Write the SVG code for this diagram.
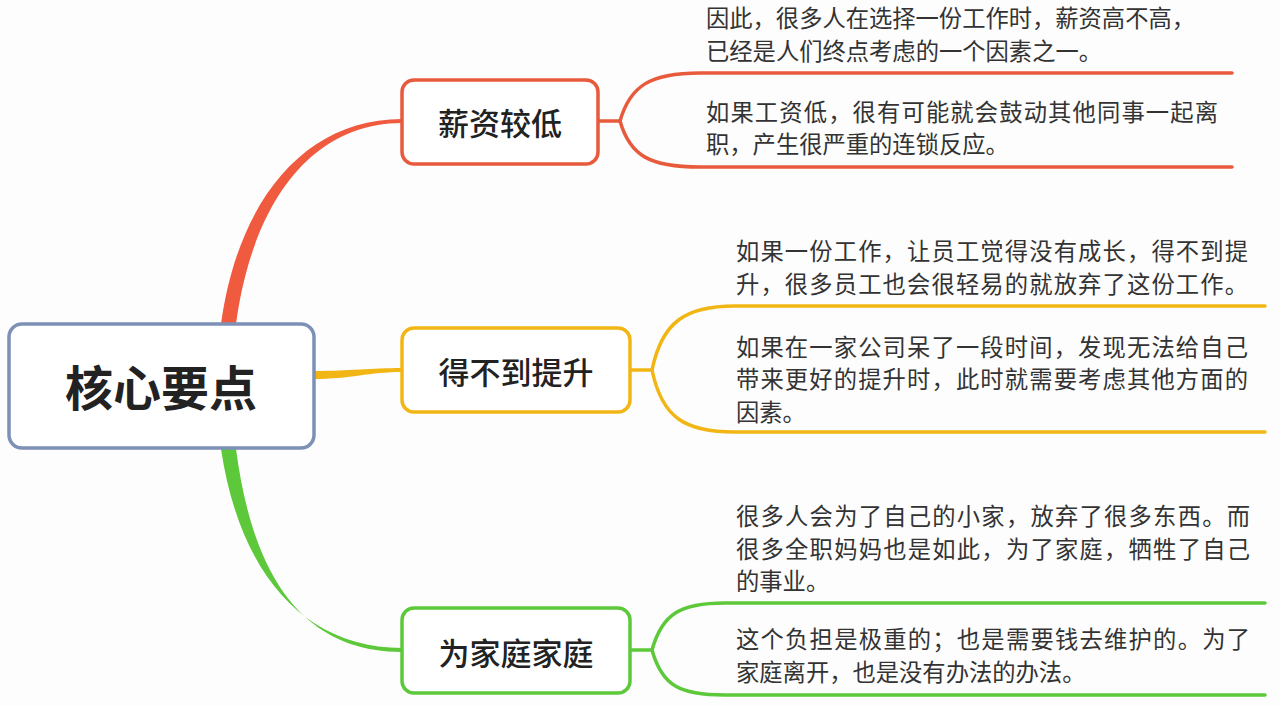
<svg xmlns="http://www.w3.org/2000/svg" width="1280" height="706" viewBox="0 0 1280 706">
<style>
.node{fill:#ffffff;stroke-width:3.5}
.lbl{font-family:"Noto Sans CJK SC","Noto Sans",sans-serif;font-size:31px;font-weight:500;fill:#222;text-anchor:middle;dominant-baseline:central}
.root{font-size:48px;font-weight:700}
.txt{font-family:"Noto Sans CJK SC","Noto Sans",sans-serif;font-size:23.3px;fill:#333;dominant-baseline:central}
.br{fill:none;stroke-width:3.5;stroke-linecap:round}
</style>
<rect width="1280" height="706" fill="#fdfdfd"/>
<g id="connectors">
  <path d="M221,324 C238,200 305,119 402,119 L402,123 C310,123 252,205 236,324 Z" fill="#f05a3e"/>
  <path d="M314,371 C350,371 370,368 402,368 L402,372 C370,372 350,379 314,379 Z" fill="#f2b614"/>
  <path d="M221,449 C240,575 305,648 402,648 L402,652 C300,652 252,572 236,449 Z" fill="#5cc83a"/>
  <g stroke="#e85a3c" class="br">
    <path d="M598,121 L620,121"/>
    <path d="M620,121 C630,86 650,73 700,73 L1232,73"/>
    <path d="M620,121 C630,156 650,167 700,167 L1232,167"/>
  </g>
  <g stroke="#f2b614" class="br">
    <path d="M630,370 L652,370"/>
    <path d="M652,370 C662,322 685,306 735,306 L1265,306"/>
    <path d="M652,370 C662,418 685,432 735,432 L1265,432"/>
  </g>
  <g stroke="#5cc83a" class="br">
    <path d="M630,650 L652,650"/>
    <path d="M652,650 C662,614 680,603 725,603 L1265,603"/>
    <path d="M652,650 C662,686 680,695 725,695 L1265,695"/>
  </g>
</g>
<g id="root">
  <rect class="node" x="9" y="324" width="305" height="124" rx="13" stroke="#7d90b5"/>
  <text class="lbl root" x="161" y="385">核心要点</text>
</g>
<g id="n1">
  <rect class="node" x="402" y="80" width="196" height="84" rx="12" stroke="#e85a3c"/>
  <text class="lbl" x="500" y="121">薪资较低</text>
</g>
<g id="n2">
  <rect class="node" x="402" y="328" width="228" height="84" rx="12" stroke="#f2b614"/>
  <text class="lbl" x="516" y="370">得不到提升</text>
</g>
<g id="n3">
  <rect class="node" x="402" y="608" width="228" height="85" rx="12" stroke="#5cc83a"/>
  <text class="lbl" x="516" y="651">为家庭家庭</text>
</g>
<g id="t1a">
  <text class="txt" x="706" y="17" textLength="489">因此，很多人在选择一份工作时，薪资高不高，</text>
  <text class="txt" x="706" y="50">已经是人们终点考虑的一个因素之一。</text>
</g>
<g id="t1b">
  <text class="txt" x="706" y="111" textLength="512">如果工资低，很有可能就会鼓动其他同事一起离</text>
  <text class="txt" x="706" y="143">职，产生很严重的连锁反应。</text>
</g>
<g id="t2a">
  <text class="txt" x="736" y="250" textLength="512">如果一份工作，让员工觉得没有成长，得不到提</text>
  <text class="txt" x="736" y="283" textLength="512">升，很多员工也会很轻易的就放弃了这份工作。</text>
</g>
<g id="t2b">
  <text class="txt" x="736" y="346" textLength="512">如果在一家公司呆了一段时间，发现无法给自己</text>
  <text class="txt" x="736" y="378" textLength="512">带来更好的提升时，此时就需要考虑其他方面的</text>
  <text class="txt" x="736" y="411">因素。</text>
</g>
<g id="t3a">
  <text class="txt" x="736" y="515" textLength="514">很多人会为了自己的小家，放弃了很多东西。而</text>
  <text class="txt" x="736" y="548" textLength="514">很多全职妈妈也是如此，为了家庭，牺牲了自己</text>
  <text class="txt" x="736" y="580">的事业。</text>
</g>
<g id="t3b">
  <text class="txt" x="736" y="638" textLength="514">这个负担是极重的；也是需要钱去维护的。为了</text>
  <text class="txt" x="736" y="671">家庭离开，也是没有办法的办法。</text>
</g>
</svg>
